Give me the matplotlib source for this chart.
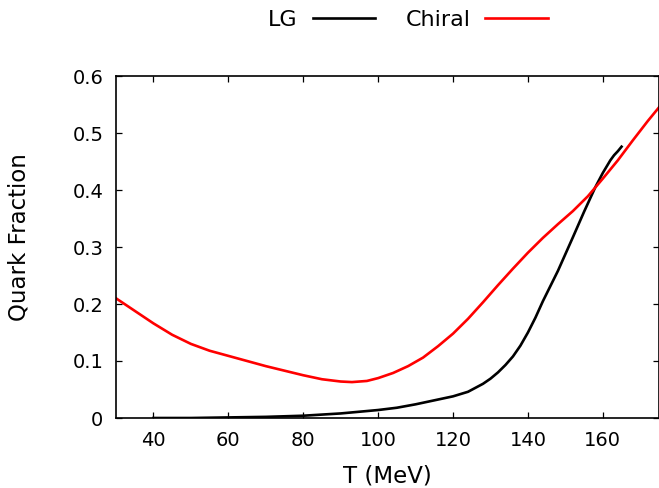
import matplotlib
matplotlib.use("Agg")
import matplotlib.pyplot as plt
from matplotlib.ticker import FuncFormatter

# Data
chiral_T = [30, 35, 40, 45, 50, 55, 60, 65, 70, 75, 80, 85, 90, 93, 97, 100, 104, 108,
            112, 116, 120, 124, 128, 132, 136, 140, 144, 148, 152, 156, 160, 164, 168, 172, 175]
chiral_q = [0.210, 0.188, 0.166, 0.146, 0.130, 0.118, 0.109, 0.100, 0.091, 0.083, 0.075,
            0.068, 0.064, 0.063, 0.065, 0.070, 0.079, 0.091, 0.106, 0.126, 0.148, 0.174,
            0.203, 0.233, 0.262, 0.290, 0.316, 0.340, 0.363, 0.389, 0.420, 0.452, 0.487,
            0.521, 0.545]

lg_T = [40, 50, 60, 70, 80, 90, 100, 105, 110, 115, 120, 124, 128, 130, 132, 134, 136,
        138, 140, 142, 144, 148, 152, 155, 158, 160, 161, 162, 163, 164, 165]
lg_q = [0.000, 0.000, 0.001, 0.002, 0.004, 0.008, 0.014, 0.018, 0.024, 0.031, 0.038,
        0.046, 0.060, 0.069, 0.080, 0.093, 0.108, 0.127, 0.150, 0.176, 0.205, 0.258,
        0.317, 0.362, 0.405, 0.430, 0.441, 0.452, 0.461, 0.468, 0.476]

x_ticks = [40, 60, 80, 100, 120, 140, 160]
y_ticks = [0, 0.1, 0.2, 0.3, 0.4, 0.5, 0.6]

plt.rcParams['font.family'] = ['DejaVu Sans']
W, H = 659, 488
fig = plt.figure(figsize=(W / 100, H / 100), dpi=100)
left, right, top, bottom = 116, 659, 76, 418
ax = fig.add_axes([left / W, 1 - bottom / H, (right - left) / W, (bottom - top) / H])

ax.plot(lg_T, lg_q, color='black', lw=1.9, label='LG')
ax.plot(chiral_T, chiral_q, color='#ff0000', lw=1.9, label='Chiral')

ax.set_xlim(30, 175)
ax.set_ylim(0, 0.6)
ax.set_xticks(x_ticks)
ax.set_yticks(y_ticks)
ax.yaxis.set_major_formatter(FuncFormatter(lambda v, p: '0' if abs(v) < 1e-9 else f'{v:.1f}'))
ax.tick_params(direction='in', length=4, width=0.9, top=True, right=True,
               labelsize=14)
ax.tick_params(axis='x', pad=9)
ax.tick_params(axis='y', pad=9)
for s in ax.spines.values():
    s.set_linewidth(1.2)

ax.set_xlabel('T (MeV)', fontsize=16.5, labelpad=11)
ax.set_ylabel('Quark Fraction', fontsize=16.5)
ax.yaxis.set_label_coords(-0.158, 0.529)

leg = ax.legend(loc='center', ncol=2, markerfirst=False, frameon=False, fontsize=16,
                handlelength=2.8, columnspacing=1.35, handletextpad=0.68,
                borderpad=0, borderaxespad=0)
leg.set_bbox_to_anchor((408 / W, 1 - 20 / H), transform=fig.transFigure)

fig.savefig('out.png', dpi=100)
